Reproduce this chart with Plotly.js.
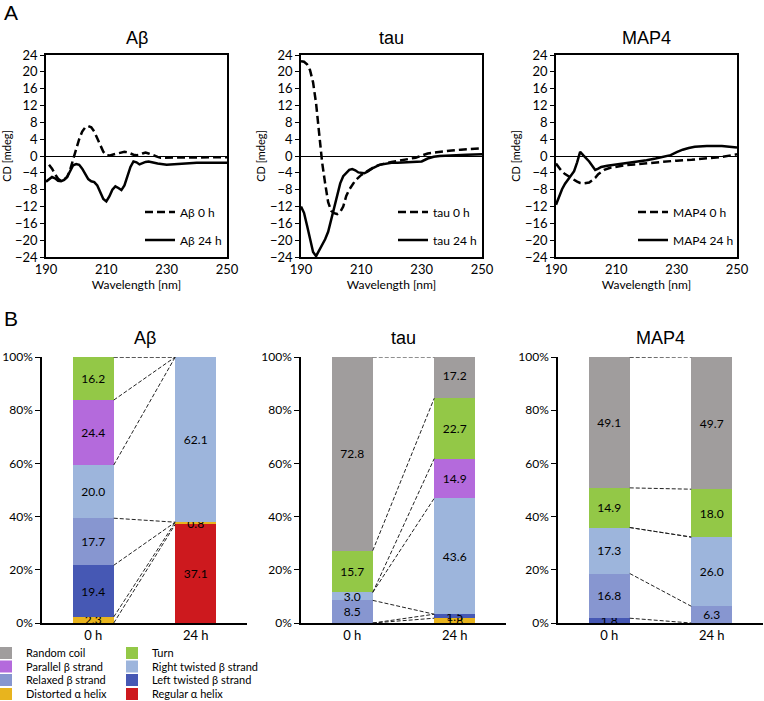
<!DOCTYPE html>
<html>
<head>
<meta charset="utf-8">
<script src="https://cdn.plot.ly/plotly-3.0.1.min.js"></script>
<style>html,body{margin:0;padding:0;background:#fff;}#chart{width:764px;height:701px;}</style>
</head>
<body>
<div id="chart"></div>
<script>
// ---------- Panel A: CD spectra ----------
const abeta0hWl = [191,192,193,194,195,196,197,198,199,200,201,202,203,204,205,206,207,208,209,210,211,212,213,214,215,216,217,218,219,220,221,222,223,224,225,226,227,228,230,235,240,245,250];
const abeta0hCd = [-2.1,-3.0,-4.3,-5.4,-5.9,-5.6,-5.0,-3.3,-0.8,1.8,4.0,5.8,6.8,7.1,6.8,5.8,4.2,2.5,1.0,0.2,0.1,0.3,0.5,0.6,0.8,1.0,0.9,0.6,0.3,0.2,0.3,0.6,0.8,0.6,0.3,0.0,-0.2,-0.4,-0.4,-0.4,-0.3,-0.3,-0.3];
const abeta24hWl = [190,191,192,193,194,195,196,197,198,199,200,201,202,203,204,205,206,207,208,209,210,211,212,213,214,215,216,217,218,219,220,221,222,223,224,225,227,230,232,235,240,245,250];
const abeta24hCd = [-6.1,-5.6,-5.0,-5.3,-5.9,-6.0,-5.7,-5.0,-3.5,-2.2,-1.9,-2.1,-3.0,-4.3,-5.5,-6.0,-6.2,-7.0,-8.6,-10.2,-10.8,-9.6,-8.0,-7.2,-7.6,-8.1,-7.0,-4.8,-2.6,-1.3,-1.5,-2.0,-1.7,-1.4,-1.3,-1.5,-1.8,-2.1,-2.0,-1.8,-1.6,-1.6,-1.6];
const tau0hWl = [190,191,192,193,194,195,196,197,198,199,200,201,202,203,204,205,206,207,208,210,212,214,216,218,220,222,225,228,230,232,235,238,240,243,246,250];
const tau0hCd = [22.5,22.4,21.8,20.4,17.5,12.5,5.5,-1.5,-6.5,-11.0,-13.0,-13.6,-13.8,-13.3,-12.0,-9.5,-8.0,-6.8,-5.8,-4.5,-3.5,-2.7,-2.1,-1.7,-1.4,-1.2,-0.8,-0.4,0.1,0.6,0.9,1.2,1.3,1.5,1.7,1.8];
const tau24hWl = [190,191,192,193,194,195,196,197,198,199,200,201,202,203,204,205,206,207,208,209,210,211,212,213,214,216,218,220,222,225,228,230,232,234,236,240,245,250];
const tau24hCd = [-12.0,-13.5,-16.5,-20.0,-22.8,-23.8,-22.5,-21.0,-19.8,-18.0,-15.0,-12.0,-9.0,-6.5,-4.8,-4.0,-3.3,-3.1,-3.4,-3.9,-4.0,-4.1,-3.7,-3.2,-2.8,-2.1,-1.8,-1.6,-1.6,-1.5,-1.5,-1.3,-0.6,-0.2,0.0,0.2,0.3,0.4];
const map40hWl = [190,191,192,193,194,195,196,197,198,199,200,201,202,203,204,205,206,208,210,213,216,220,225,230,235,240,245,250];
const map40hCd = [-1.8,-2.9,-3.7,-4.3,-4.8,-5.3,-5.8,-6.1,-6.4,-6.5,-6.4,-6.3,-5.8,-5.2,-4.3,-3.7,-3.3,-2.8,-2.5,-2.2,-2.0,-1.7,-1.3,-1.1,-0.9,-0.6,-0.2,0.4];
const map424hWl = [190,191,192,193,194,195,196,197,198,199,200,201,202,203,204,205,207,210,213,216,220,223,226,228,230,232,234,236,240,245,250];
const map424hCd = [-11.6,-9.5,-7.9,-6.6,-5.6,-4.7,-3.6,-1.5,1.0,0.2,-0.5,-1.3,-2.3,-3.3,-3.0,-2.6,-2.3,-2.0,-1.8,-1.5,-1.0,-0.6,-0.2,0.2,0.9,1.5,1.9,2.2,2.4,2.4,2.0];

const proteins = ['Aβ', 'tau', 'MAP4'];
const cdXTicks = [190, 210, 230, 250];

// ---------- Panel B: secondary structure (%) ----------
const structures = ['Regular α helix','Distorted α helix','Left twisted β strand','Relaxed β strand','Right twisted β strand','Parallel β strand','Turn','Random coil'];
const structColors = ['#CD191E','#E8B41E','#4658B4','#8796D0','#9DB5DC','#B46ADC','#93C847','#A09D9D'];
const timeLabels = ['0 h', '24 h'];
const abeta0h = [0, 2.3, 19.4, 17.7, 20.0, 24.4, 16.2, 0];
const abeta24h = [37.1, 0.8, 0, 0, 62.1, 0, 0, 0];
const tau0h = [0, 0, 0, 8.5, 3.0, 0, 15.7, 72.8];
const tau24h = [0, 1.8, 1.5, 0, 43.6, 14.9, 22.7, 17.2];
const map40h = [0, 0, 1.8, 16.8, 17.3, 0, 14.9, 49.1];
const map424h = [0, 0, 0, 6.3, 26.0, 0, 18.0, 49.7];
const pctTicks = [0, 20, 40, 60, 80, 100];
const pctTickText = ['0%', '20%', '40%', '60%', '80%', '100%'];

// ---------- layout helpers ----------
const W = 764, H = 701;
const fx = p => p / W;
const fy = p => 1 - p / H;
const TXT = 'Lato, "Open Sans", sans-serif';
const ARIAL = '"Liberation Sans", Arial, sans-serif';

const traces = [];
const layout = {
  width: W, height: H,
  margin: {l: 0, r: 0, t: 0, b: 0, autoexpand: false},
  paper_bgcolor: '#fff', plot_bgcolor: 'rgba(0,0,0,0)',
  font: {family: TXT, color: '#000', size: 12},
  barmode: 'stack',
  showlegend: true,
  annotations: [],
};

let legendCount = 0;
function newLegend(leftPx, centerPx, size) {
  legendCount += 1;
  const id = legendCount === 1 ? 'legend' : 'legend' + legendCount;
  layout[id] = {
    x: fx(leftPx), y: fy(centerPx), xanchor: 'left', yanchor: 'middle',
    xref: 'paper', yref: 'paper',
    bgcolor: 'rgba(0,0,0,0)', borderwidth: 0,
    font: {family: TXT, size: size, color: '#000'},
    itemwidth: 30, tracegroupgap: 0,
  };
  return id;
}

// ---- Panel A ----
const cdSeries = [
  [abeta0hWl, abeta0hCd, abeta24hWl, abeta24hCd],
  [tau0hWl, tau0hCd, tau24hWl, tau24hCd],
  [map40hWl, map40hCd, map424hWl, map424hCd],
];
const cdDomains = [[46, 227], [301, 482], [556, 737]];
const cdLegendLeft = [140, 393, 633];
const cdYDomain = [fy(257), fy(55)];

cdSeries.forEach((s, i) => {
  const n = i + 1;
  const xa = 'xaxis' + (n === 1 ? '' : n), ya = 'yaxis' + (n === 1 ? '' : n);
  const xr = 'x' + (n === 1 ? '' : n), yr = 'y' + (n === 1 ? '' : n);
  layout[xa] = {
    domain: [fx(cdDomains[i][0]), fx(cdDomains[i][1])], anchor: yr,
    range: [190, 250], tickvals: cdXTicks, ticks: '', showgrid: false, zeroline: false,
    showline: true, mirror: true, linecolor: '#000', linewidth: 1.5,
    tickfont: {family: TXT, size: 13},
    title: {text: 'Wavelength [nm]', font: {family: TXT, size: 12}, standoff: 0},
  };
  layout[ya] = {
    domain: cdYDomain, anchor: xr,
    range: [-24, 24], dtick: 4, tick0: 0, ticks: 'outside', ticklen: 4, tickcolor: '#000',
    showgrid: false, zeroline: true, zerolinecolor: '#000', zerolinewidth: 1.2,
    showline: true, mirror: true, linecolor: '#000', linewidth: 1.5,
    tickfont: {family: TXT, size: 13},
    title: {text: 'CD [mdeg]', font: {family: TXT, size: 11}, standoff: 2},
  };
  const lg0 = newLegend(cdLegendLeft[i], 212, 12);
  const lg24 = newLegend(cdLegendLeft[i], 240, 12);
  traces.push({
    type: 'scatter', mode: 'lines', x: s[0], y: s[1], xaxis: xr, yaxis: yr,
    name: proteins[i] + ' 0 h', legend: lg0,
    line: {color: '#000', width: 2.5, dash: '8px,4px'}, hoverinfo: 'x+y',
  });
  traces.push({
    type: 'scatter', mode: 'lines', x: s[2], y: s[3], xaxis: xr, yaxis: yr,
    name: proteins[i] + ' 24 h', legend: lg24,
    line: {color: '#000', width: 2.5}, hoverinfo: 'x+y',
  });
  layout.annotations.push({
    text: proteins[i], xref: xr + ' domain', x: 0.5, yref: 'paper', y: fy(38),
    xanchor: 'center', yanchor: 'middle', showarrow: false,
    font: {family: ARIAL, size: 18, color: '#000'},
  });
});

// ---- Panel B ----
const ssData = [[abeta0h, abeta24h], [tau0h, tau24h], [map40h, map424h]];
const ssDomains = [[42, 247], [301, 506], [558, 763]];
const ssYDomain = [fy(623), fy(357)];
const ssLegendPos = {
  'Random coil': [0, 0], 'Turn': [1, 0],
  'Parallel β strand': [0, 1], 'Right twisted β strand': [1, 1],
  'Relaxed β strand': [0, 2], 'Left twisted β strand': [1, 2],
  'Distorted α helix': [0, 3], 'Regular α helix': [1, 3],
};
const ssLegendLeft = [-14, 112];
const ssLegendRows = [653, 666.5, 680, 694];
const ssLegendIds = structures.map(st => {
  const p = ssLegendPos[st];
  return newLegend(ssLegendLeft[p[0]], ssLegendRows[p[1]], 11);
});

const barHalf = 0.2;
ssData.forEach((pair, i) => {
  const n = i + 4;
  const xr = 'x' + n, yr = 'y' + n;
  layout['xaxis' + n] = {
    domain: [fx(ssDomains[i][0]), fx(ssDomains[i][1])], anchor: yr,
    range: [-0.5, 1.5], tickvals: [0, 1], ticktext: timeLabels, ticks: '',
    showgrid: false, zeroline: false, showline: true, linecolor: '#000', linewidth: 1.5,
    tickfont: {family: TXT, size: 13},
  };
  layout['yaxis' + n] = {
    domain: ssYDomain, anchor: xr,
    range: [0, 100], tickvals: pctTicks, ticktext: pctTickText, ticks: 'outside', ticklen: 5,
    tickcolor: '#000', showgrid: false, zeroline: false,
    showline: true, linecolor: '#000', linewidth: 1.5,
    tickfont: {family: TXT, size: 12},
  };
  structures.forEach((st, s) => {
    const vals = [pair[0][s], pair[1][s]];
    traces.push({
      type: 'bar', x: [0, 1], y: vals, width: [2 * barHalf, 2 * barHalf],
      xaxis: xr, yaxis: yr, name: st, legend: ssLegendIds[s],
      showlegend: i === 0,
      marker: {color: structColors[s], line: {width: 0}},
      text: vals.map(v => v > 0 ? v.toFixed(1) : ''),
      textposition: 'inside', insidetextanchor: 'middle', textangle: 0,
      constraintext: 'none', cliponaxis: true,
      textfont: {family: TXT, size: 12, color: '#000'},
      hoverinfo: 'name+y',
    });
  });
  const cx = [], cy = [];
  let c0 = 0, c24 = 0;
  for (let s = 0; s < structures.length; s++) {
    c0 += pair[0][s];
    c24 += pair[1][s];
    if (c0 === 0 && c24 === 0) continue;
    cx.push(barHalf, 1 - barHalf, null);
    cy.push(Math.min(c0, 100), Math.min(c24, 100), null);
  }
  traces.push({
    type: 'scatter', mode: 'lines', x: cx, y: cy, xaxis: xr, yaxis: yr,
    showlegend: false, hoverinfo: 'skip', connectgaps: false,
    line: {color: '#222', width: 1, dash: '4px,2px'},
  });
  layout.annotations.push({
    text: proteins[i], xref: xr + ' domain', x: 0.5, yref: 'paper', y: fy(338),
    xanchor: 'center', yanchor: 'middle', showarrow: false,
    font: {family: ARIAL, size: 18, color: '#000'},
  });
});

layout.annotations.push({text: 'A', xref: 'paper', yref: 'paper', x: fx(2), y: fy(12),
  xanchor: 'left', yanchor: 'middle', showarrow: false, font: {family: ARIAL, size: 21, color: '#000'}});
layout.annotations.push({text: 'B', xref: 'paper', yref: 'paper', x: fx(2), y: fy(318),
  xanchor: 'left', yanchor: 'middle', showarrow: false, font: {family: ARIAL, size: 21, color: '#000'}});

Plotly.newPlot('chart', traces, layout, {displayModeBar: false, responsive: false});
</script>
</body>
</html>
